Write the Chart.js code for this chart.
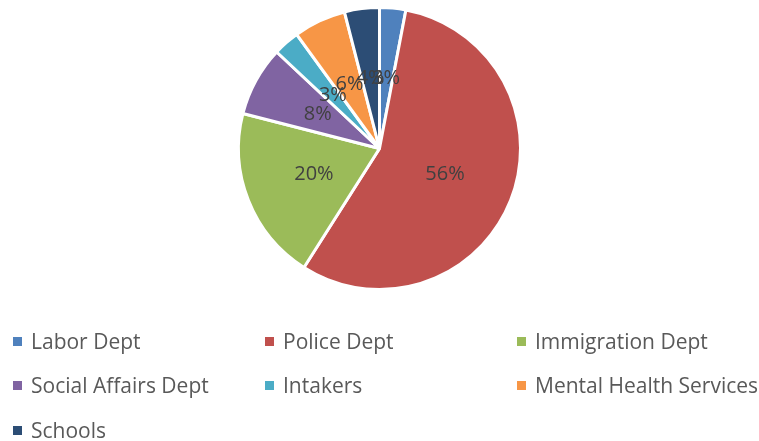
<!DOCTYPE html>
<html>
<head>
<meta charset="utf-8">
<script src="https://cdn.jsdelivr.net/npm/chart.js@4/dist/chart.umd.min.js"></script>
<style>
  body { margin: 0; background: #fff; }
  #wrap { position: relative; width: 759px; height: 441px; }
  #chartBox { position: absolute; left: 0; top: 0; width: 759px; height: 300px; }
  #legend { position: absolute; left: 0; top: 0; width: 759px; height: 441px; pointer-events: none; }
  .item { position: absolute; font-family: "Open Sans", sans-serif; font-size: 21px; color: #595959; white-space: nowrap; line-height: 20px; }
  .item span.box { position: absolute; width: 9px; height: 9px; left: -18px; top: 6px; }
</style>
</head>
<body>
<div id="wrap">
  <div id="chartBox"><canvas id="pie"></canvas></div>
  <div id="legend"></div>
</div>
<script>
const labels = ["Labor Dept", "Police Dept", "Immigration Dept", "Social Affairs Dept", "Intakers", "Mental Health Services", "Schools"];
const shares = [3, 56, 20, 8, 3, 6, 4];
const colors = ["#4F81BD", "#C0504D", "#9BBB59", "#8064A2", "#4BACC6", "#F79646", "#2C4D75"];

// legend grid: 3 columns like the office layout
const legendCols = [31, 283, 535];
const legendRows = [331, 375, 420];

const legendEl = document.getElementById("legend");
labels.forEach((name, i) => {
  const div = document.createElement("div");
  div.className = "item";
  div.style.left = legendCols[i % 3] + "px";
  div.style.top = legendRows[Math.floor(i / 3)] + "px";
  const box = document.createElement("span");
  box.className = "box";
  box.style.background = colors[i];
  div.appendChild(box);
  div.appendChild(document.createTextNode(name));
  legendEl.appendChild(div);
});

// percent labels at half the radius, inside each slice
const sliceLabels = {
  id: "sliceLabels",
  afterDatasetsDraw(chart) {
    const ctx = chart.ctx;
    const meta = chart.getDatasetMeta(0);
    ctx.save();
    ctx.font = "20px 'Open Sans', sans-serif";
    ctx.fillStyle = "#404040";
    ctx.textAlign = "center";
    ctx.textBaseline = "middle";
    meta.data.forEach((arc, i) => {
      const p = arc.getProps(["x", "y", "startAngle", "endAngle", "outerRadius"], true);
      const mid = (p.startAngle + p.endAngle) / 2;
      const r = p.outerRadius * 0.5;
      ctx.fillText(shares[i] + "%", p.x + Math.cos(mid) * r, p.y + Math.sin(mid) * r);
    });
    ctx.restore();
  },
};

new Chart(document.getElementById("pie"), {
  type: "pie",
  data: {
    labels: labels,
    datasets: [
      {
        data: shares,
        backgroundColor: colors,
        borderColor: "#ffffff",
        borderWidth: 3,
      },
    ],
  },
  options: {
    responsive: true,
    maintainAspectRatio: false,
    animation: false,
    layout: { padding: { top: 6, bottom: 9 } },
    plugins: {
      legend: { display: false },
      tooltip: { enabled: false },
    },
  },
  plugins: [sliceLabels],
});
</script>
</body>
</html>
